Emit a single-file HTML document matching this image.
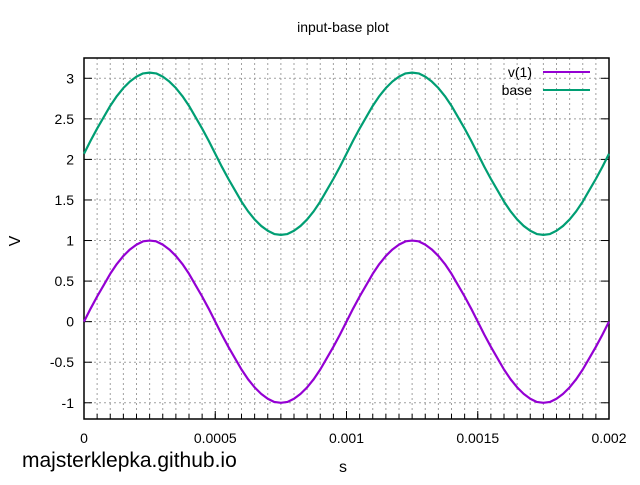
<!DOCTYPE html>
<html><head><meta charset="utf-8"><style>
body{margin:0;background:#fff}
svg text{font-family:"Liberation Sans",sans-serif;}
</style></head><body>
<svg id="chart" width="640" height="480" viewBox="0 0 640 480">
<rect width="640" height="480" fill="#fff"/>
<g id="grid"></g>
<g id="axes"></g>
<g id="series"></g>
<text x="343" y="32" font-size="14" text-anchor="middle">input-base plot</text>
<text x="20" y="241" font-size="16" text-anchor="middle" transform="rotate(-90 20 241)">V</text>
<text x="343" y="472" font-size="16" text-anchor="middle">s</text>
<text x="22" y="467" font-size="21">majsterklepka.github.io</text>
<g>
<g><text x="532" y="77" font-size="14" text-anchor="end">v(1)</text><line x1="543" y1="72" x2="590" y2="72" stroke="#9400d3" stroke-width="2"/></g>
<g><text x="532" y="95" font-size="14" text-anchor="end">base</text><line x1="543" y1="90" x2="590" y2="90" stroke="#009e73" stroke-width="2"/></g>
</g>
</svg>
<script>
const times=[0,0.000025,0.00005,0.000075,0.0001,0.000125,0.00015,0.000175,0.0002,0.000225,0.00025,0.000275,0.0003,0.000325,0.00035,0.000375,0.0004,0.000425,0.00045,0.000475,
0.0005,0.000525,0.00055,0.000575,0.0006,0.000625,0.00065,0.000675,0.0007,0.000725,0.00075,0.000775,0.0008,0.000825,0.00085,0.000875,0.0009,0.000925,0.00095,0.000975,
0.001,0.001025,0.00105,0.001075,0.0011,0.001125,0.00115,0.001175,0.0012,0.001225,0.00125,0.001275,0.0013,0.001325,0.00135,0.001375,0.0014,0.001425,0.00145,0.001475,
0.0015,0.001525,0.00155,0.001575,0.0016,0.001625,0.00165,0.001675,0.0017,0.001725,0.00175,0.001775,0.0018,0.001825,0.00185,0.001875,0.0019,0.001925,0.00195,0.001975,0.002];
const v1=[0,0.16,0.31,0.45,0.59,0.71,0.81,0.89,0.95,0.99,1,0.99,0.95,0.89,0.81,0.71,0.59,0.45,0.31,0.16,
0,-0.16,-0.31,-0.45,-0.59,-0.71,-0.81,-0.89,-0.95,-0.99,-1,-0.99,-0.95,-0.89,-0.81,-0.71,-0.59,-0.45,-0.31,-0.16,
0,0.16,0.31,0.45,0.59,0.71,0.81,0.89,0.95,0.99,1,0.99,0.95,0.89,0.81,0.71,0.59,0.45,0.31,0.16,
0,-0.16,-0.31,-0.45,-0.59,-0.71,-0.81,-0.89,-0.95,-0.99,-1,-0.99,-0.95,-0.89,-0.81,-0.71,-0.59,-0.45,-0.31,-0.16,0];
const base=[2.07,2.23,2.38,2.52,2.66,2.78,2.88,2.96,3.02,3.06,3.07,3.06,3.02,2.96,2.88,2.78,2.66,2.52,2.38,2.23,
2.07,1.91,1.76,1.62,1.48,1.36,1.26,1.18,1.12,1.08,1.07,1.08,1.12,1.18,1.26,1.36,1.48,1.62,1.76,1.91,
2.07,2.23,2.38,2.52,2.66,2.78,2.88,2.96,3.02,3.06,3.07,3.06,3.02,2.96,2.88,2.78,2.66,2.52,2.38,2.23,
2.07,1.91,1.76,1.62,1.48,1.36,1.26,1.18,1.12,1.08,1.07,1.08,1.12,1.18,1.26,1.36,1.48,1.62,1.76,1.91,2.07];
const xTicks=[0,0.0005,0.001,0.0015,0.002];
const xTickLabels=["0","0.0005","0.001","0.0015","0.002"];
const yTicks=[-1,-0.5,0,0.5,1,1.5,2,2.5,3];
const yTickLabels=["-1","-0.5","0","0.5","1","1.5","2","2.5","3"];
const L=84,R=609,T=58,B=419,X0=0,X1=0.002,Y0=-1.2,Y1=3.25;
const sx=v=>L+(v-X0)/(X1-X0)*(R-L);
const sy=v=>B-(v-Y0)/(Y1-Y0)*(B-T);
const NS="http://www.w3.org/2000/svg";
function mk(tag,attrs,parent){const e=document.createElementNS(NS,tag);for(const k in attrs)e.setAttribute(k,attrs[k]);parent.appendChild(e);return e;}
const grid=document.getElementById('grid'),axes=document.getElementById('axes'),series=document.getElementById('series');
for(let i=1;i<40;i++){const x=sx(X0+i*(X1-X0)/40);
 const g=mk('line',{x1:x,x2:x,y1:T,y2:B,stroke:'#a0a0a0','stroke-dasharray':'2,3','stroke-width':1},grid);
 
 
 const m=mk('line',{x1:x,x2:x,y1:B,y2:B-5,stroke:'#000'},axes);
 
 }
yTicks.forEach((v,i)=>{const y=sy(v);
 const g=mk('line',{x1:L,x2:R,y1:y,y2:y,stroke:'#a0a0a0','stroke-dasharray':'2,3','stroke-width':1},grid);
 
 
 mk('line',{x1:L,x2:L+8,y1:y,y2:y,stroke:'#000'},axes);
 mk('line',{x1:R,x2:R-8,y1:y,y2:y,stroke:'#000'},axes);
 const t=mk('text',{x:L-10,y:y+5,'font-size':14,'text-anchor':'end'},axes);t.textContent=yTickLabels[i];
 
 });
xTicks.forEach((v,i)=>{const x=sx(v);
 mk('line',{x1:x,x2:x,y1:B,y2:B-8,stroke:'#000'},axes);
 const t=mk('text',{x:x,y:B+24,'font-size':14,'text-anchor':'middle'},axes);t.textContent=xTickLabels[i];
 
 });
const fr=mk('rect',{x:L,y:T,width:R-L,height:B-T,fill:'none',stroke:'#000','stroke-width':1.5},axes);


function line(vals,color,name){
 const d=vals.map((v,i)=>(i?'L':'M')+sx(times[i]).toFixed(2)+','+sy(v).toFixed(2)).join(' ');
 const p=mk('path',{d:d,fill:'none',stroke:color,'stroke-width':2.2,'stroke-linejoin':'round'},series);
 
 }
line(v1,'#9400d3','series-v1');
line(base,'#009e73','series-base');
</script>
</body></html>
